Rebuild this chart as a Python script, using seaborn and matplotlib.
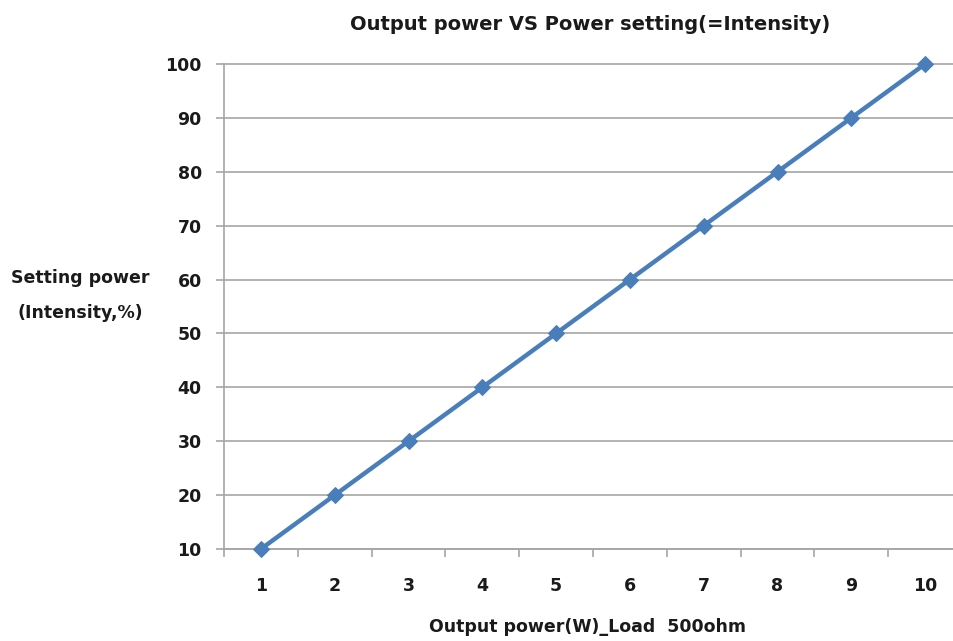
import matplotlib
matplotlib.use("Agg")
import matplotlib.pyplot as plt
from matplotlib.ticker import FixedLocator, NullFormatter
import seaborn as sns
import pandas as pd

# Output power (W) at 500 ohm load vs. power setting (intensity, %)
output_power = [1, 2, 3, 4, 5, 6, 7, 8, 9, 10]
setting_power = [10, 20, 30, 40, 50, 60, 70, 80, 90, 100]
y_ticks = [10, 20, 30, 40, 50, 60, 70, 80, 90, 100]

df = pd.DataFrame({"output": output_power, "setting": setting_power})

sns.set_theme(style="white")
plt.rcParams["font.family"] = ["DejaVu Sans"]

fig = plt.figure(figsize=(9.54, 6.41), dpi=100)
ax = fig.add_axes([0.2348, 0.1435, 0.7736, 0.7567])

line_color = "#4a7ebb"
sns.lineplot(data=df, x="output", y="setting", ax=ax, color=line_color,
             linewidth=3.2, marker="D", markersize=8.5,
             markeredgecolor=line_color, markerfacecolor=line_color,
             clip_on=False, zorder=5)

grid_color = "#a6a6a6"
ax.set_xlim(0.5, 10.5)
ax.set_ylim(10, 100)
ax.set_yticks(y_ticks)
ax.yaxis.grid(True, color=grid_color, linewidth=1.2)
ax.xaxis.grid(False)
for gl in ax.get_ygridlines():
    gl.set_clip_on(False)

# category labels at centres, tick marks at category boundaries
ax.set_xticks(output_power)
ax.xaxis.set_minor_locator(FixedLocator([v + 0.5 for v in [0] + output_power]))
ax.xaxis.set_minor_formatter(NullFormatter())
ax.tick_params(axis="x", which="major", length=0, pad=20)
ax.tick_params(axis="x", which="minor", length=6, width=1.2, color=grid_color,
               direction="out", bottom=True)
ax.tick_params(axis="y", which="major", length=6, width=1.2, color=grid_color,
               direction="out", left=True, pad=10)

for lab in ax.get_xticklabels() + ax.get_yticklabels():
    lab.set_fontsize(12.5)
    lab.set_fontweight("bold")
    lab.set_color("#1a1a1a")

for side in ["top", "right"]:
    ax.spines[side].set_visible(False)
for side in ["left", "bottom"]:
    ax.spines[side].set_color(grid_color)
    ax.spines[side].set_linewidth(1.2)

ax.set_xlabel("")
ax.set_ylabel("")

fig.text(0.619, 0.962, "Output power VS Power setting(=Intensity)",
         ha="center", va="center", fontsize=14, fontweight="bold", color="#1a1a1a")
fig.text(0.616, 0.022, "Output power(W)_Load  500ohm",
         ha="center", va="center", fontsize=12.5, fontweight="bold", color="#1a1a1a")
fig.text(0.084, 0.566, "Setting power", ha="center", va="center",
         fontsize=12.5, fontweight="bold", color="#1a1a1a")
fig.text(0.084, 0.512, "(Intensity,%)", ha="center", va="center",
         fontsize=12.5, fontweight="bold", color="#1a1a1a")

fig.savefig("out.png", dpi=100, facecolor="white")
